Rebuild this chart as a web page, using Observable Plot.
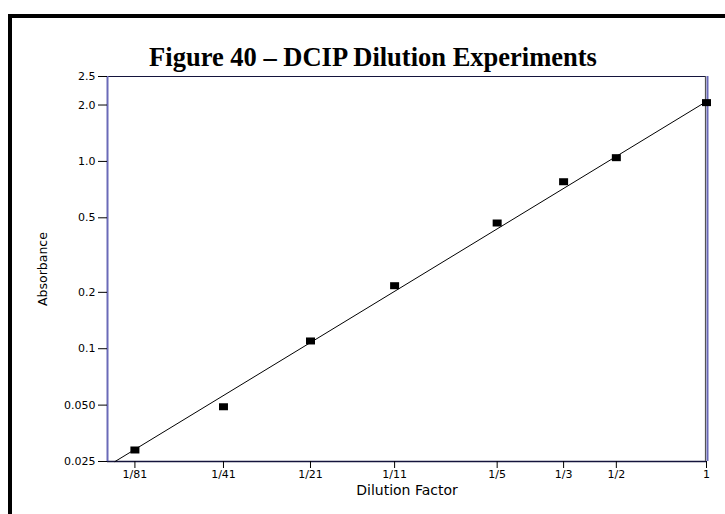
<!DOCTYPE html>
<html><head><meta charset="utf-8">
<script src="https://cdn.jsdelivr.net/npm/d3@7"></script>
<script src="https://cdn.jsdelivr.net/npm/@observablehq/plot@0.6"></script>
<style>
body{margin:0;background:#fff;}
#wrap{position:relative;width:725px;height:514px;overflow:hidden;background:#fff;}
#frame{position:absolute;left:8px;top:14px;width:800px;height:600px;border-left:4px solid #000;border-top:4px solid #000;}
#title{position:absolute;left:0;width:746px;top:44px;text-align:center;font-family:"Liberation Serif","Times New Roman",serif;font-weight:bold;font-size:26.5px;line-height:1;color:#000;}
#chart{position:absolute;left:0;top:0;}
</style>
</head><body>
<div id="wrap"><div id="frame"></div><div id="title">Figure 40 – DCIP Dilution Experiments</div><div id="chart"></div></div>
<script>
// Data
const dilution = [1/81, 1/41, 1/21, 1/11, 1/5, 1/3, 1/2, 1];
const absorbance = [0.0288, 0.049, 0.110, 0.217, 0.469, 0.779, 1.047, 2.06];
const xTickValues = [1/81, 1/41, 1/21, 1/11, 1/5, 1/3, 1/2, 1];
const xTickLabels = ["1/81", "1/41", "1/21", "1/11", "1/5", "1/3", "1/2", "1"];
const yTickValues = [0.025, 0.05, 0.1, 0.2, 0.5, 1, 2, 2.84];
const yTickLabels = ["0.025", "0.050", "0.1", "0.2", "0.5", "1.0", "2.0", "2.5"];
const xDomain = [0.01, 1];
const yDomain = [0.025, 2.84];
const fitX = [0.0106, 1];
const fitY = [0.025, 2.09];
const xTitle = "Dilution Factor";
const yTitle = "Absorbance";

const points = dilution.map((d, i) => ({x: d, y: absorbance[i]}));
const fit = fitX.map((d, i) => ({x: d, y: fitY[i]}));
const xTicks = xTickValues.map((v, i) => ({v, label: xTickLabels[i]}));
const yTicks = yTickValues.map((v, i) => ({v, label: yTickLabels[i]}));
const rectSym = {draw(ctx) { ctx.rect(-4.5, -3.5, 9, 7); }};

const chart = Plot.plot({
  width: 725, height: 514,
  marginLeft: 107, marginRight: 19, marginTop: 76, marginBottom: 53,
  style: {fontFamily: "DejaVu Sans, sans-serif", fontSize: "11px", background: "transparent", color: "#000"},
  x: {type: "log", domain: xDomain},
  y: {type: "log", domain: yDomain},
  marks: [
    Plot.ruleY([yDomain[0]], {stroke: "#14143c", strokeWidth: 1.5}),
    Plot.ruleY([yDomain[1]], {stroke: "#14143c", strokeWidth: 1.2}),
    Plot.ruleX([xDomain[0]], {stroke: "#6a6ab8", strokeWidth: 2}),
    Plot.ruleX([xDomain[1]], {stroke: "#555", strokeWidth: 1.2, dx: -1}),
    Plot.ruleX([xDomain[1]], {stroke: "#6a6ab8", strokeWidth: 2, dx: 1}),
    Plot.axisX({ticks: xTickValues, tickFormat: () => "", tickSize: 7, label: null, stroke: "#000"}),
    Plot.text(xTicks, {x: "v", text: "label", frameAnchor: "bottom", dy: 16}),
    Plot.axisY({ticks: yTickValues, tickFormat: () => "", tickSize: 9, label: null, stroke: "#000"}),
    Plot.text(yTicks, {y: "v", text: "label", frameAnchor: "left", dx: -12, textAnchor: "end"}),
    Plot.line(fit, {x: "x", y: "y", stroke: "#000", strokeWidth: 1}),
    Plot.dot(points, {x: "x", y: "y", symbol: rectSym, fill: "#000", stroke: null, r: 4}),
    Plot.text([xTitle], {frameAnchor: "bottom", dy: 33, text: d => d, fontSize: 14}),
    Plot.text([yTitle], {frameAnchor: "left", dx: -65, rotate: -90, textAnchor: "middle", text: d => d, fontSize: 12.5})
  ]
});
document.getElementById("chart").appendChild(chart);
</script>
</body></html>
